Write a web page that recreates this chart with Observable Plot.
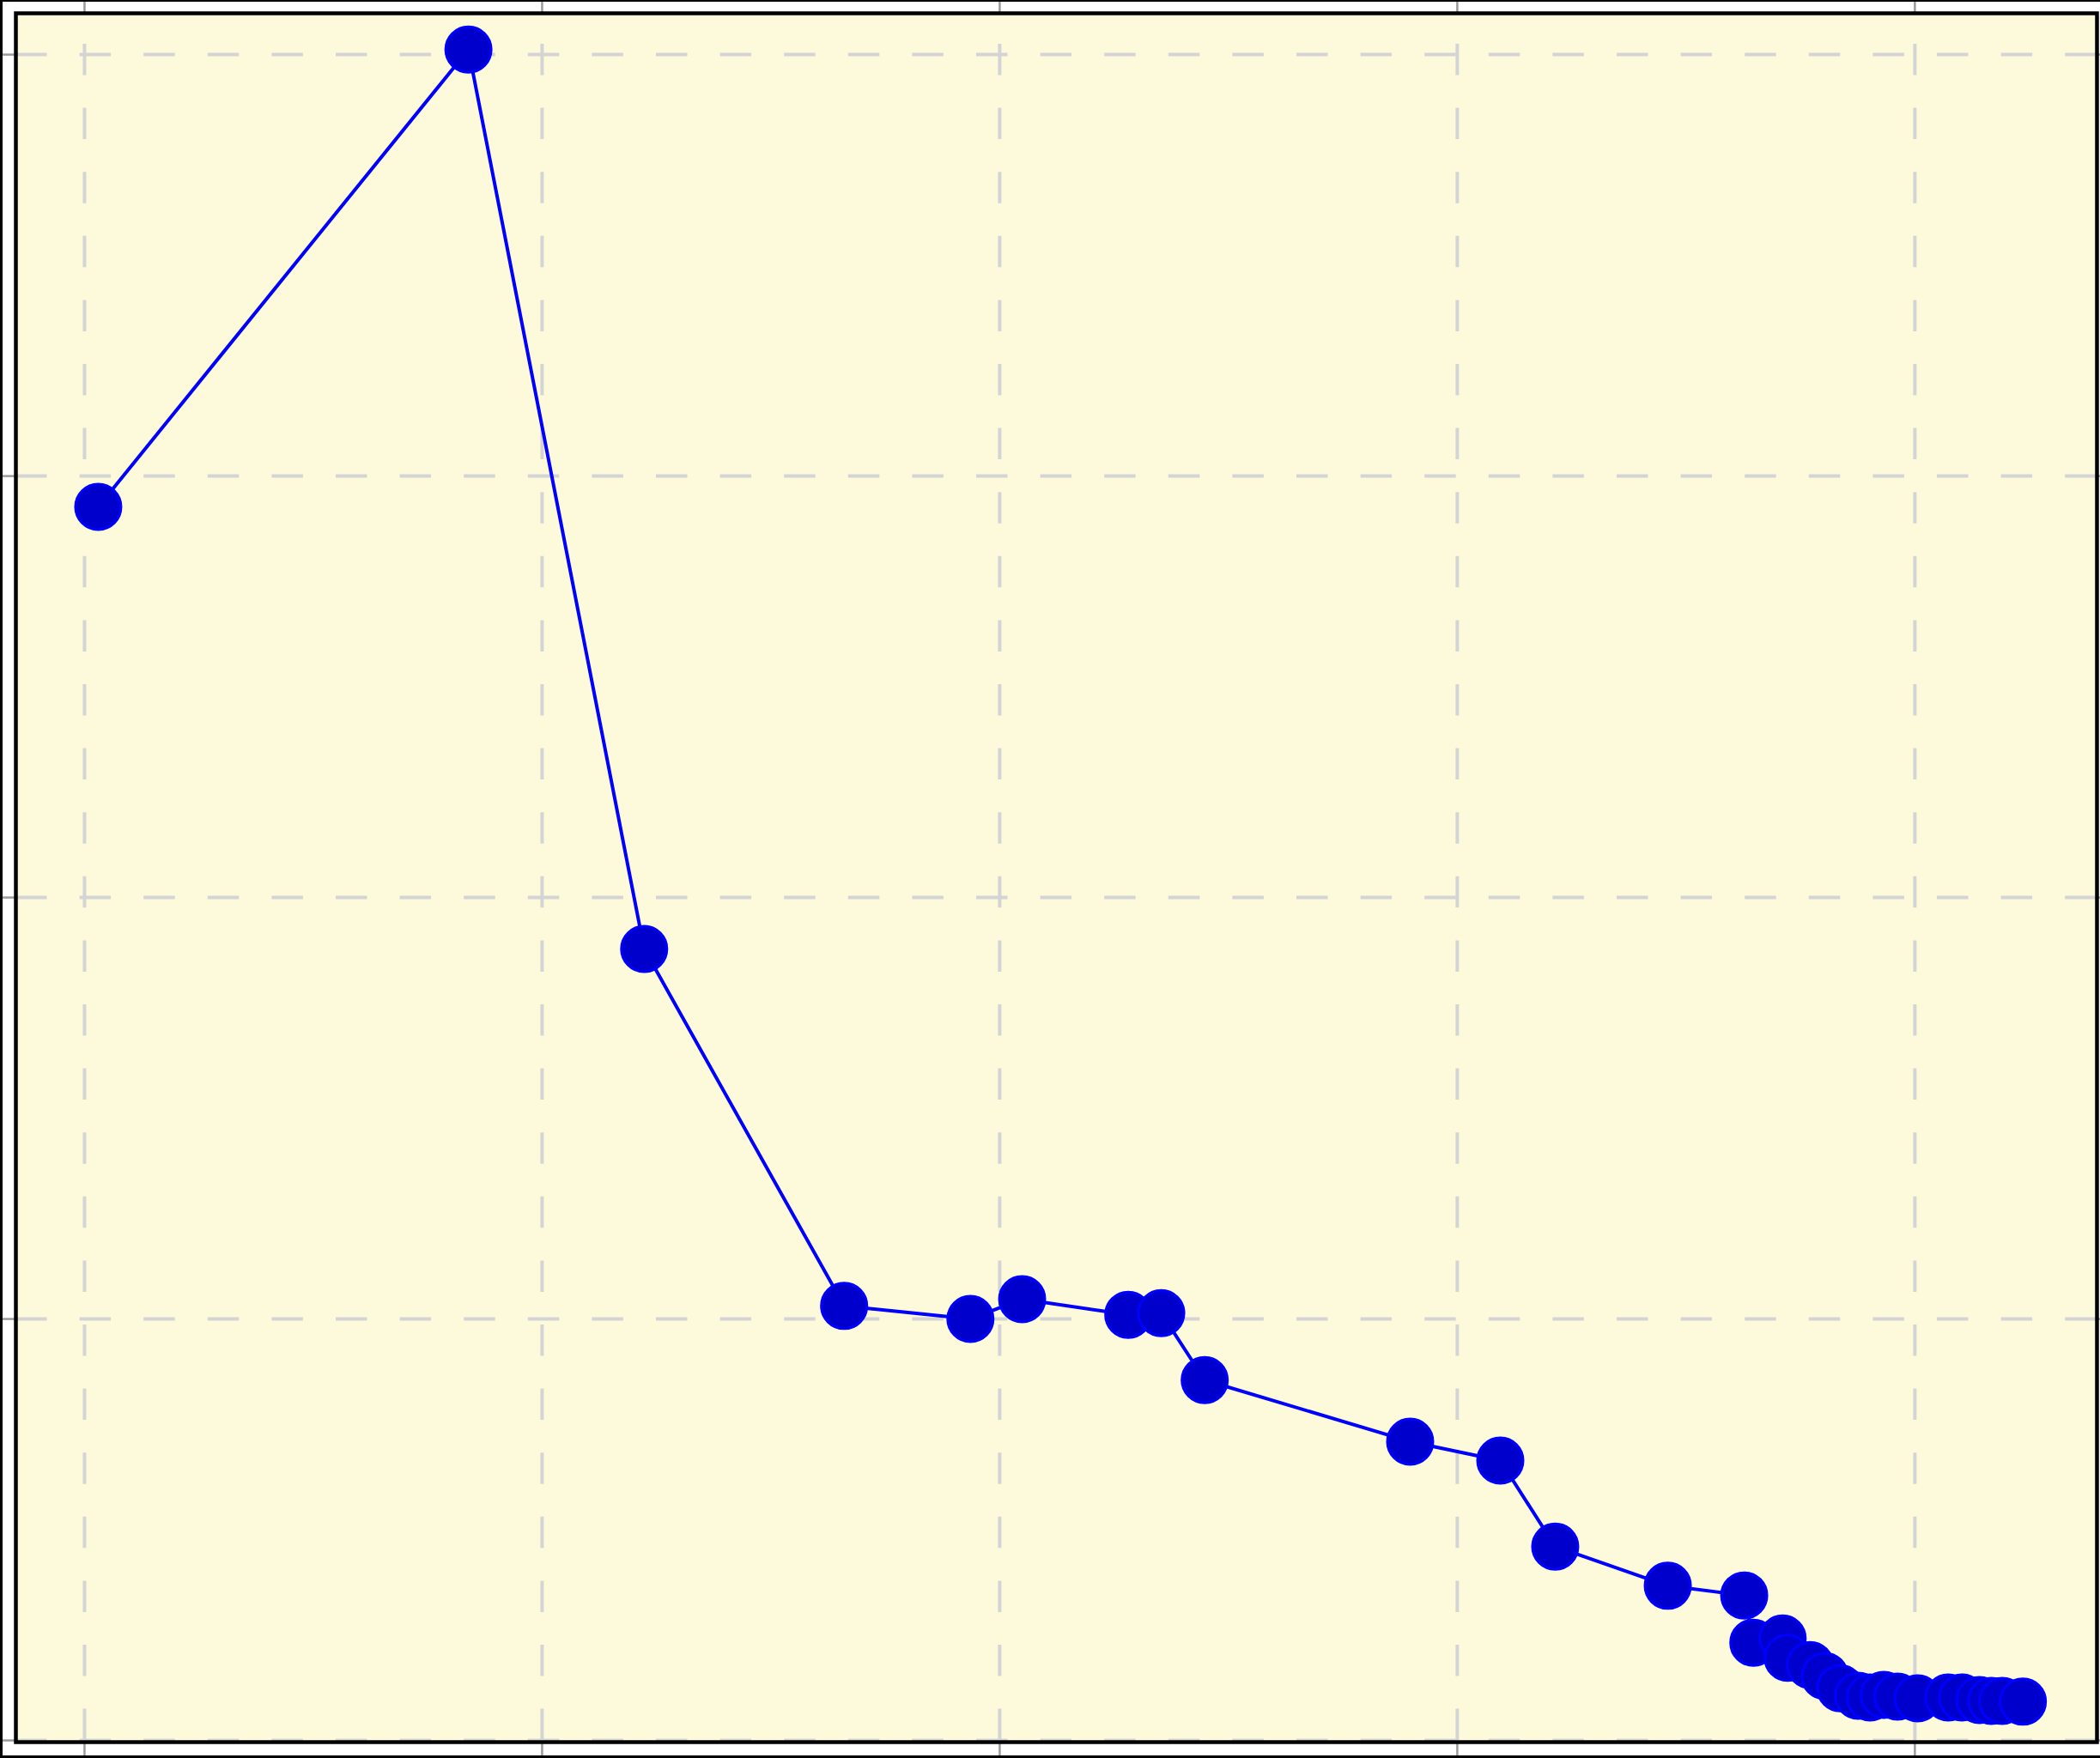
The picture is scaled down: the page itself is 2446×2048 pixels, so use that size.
<!DOCTYPE html>
<html>
<head>
<meta charset="utf-8">
<script src="https://cdn.jsdelivr.net/npm/d3@7"></script>
<script src="https://cdn.jsdelivr.net/npm/@observablehq/plot@0.6"></script>
<style>
  html, body { margin: 0; padding: 0; background: #ffffff; }
  #wrap { position: relative; width: 2446px; height: 2048px; overflow: hidden; }
  #wrap svg { display: block; background: #ffffff; }
  #edge { position: absolute; left: 0; top: 0; width: 2446px; height: 2048px; box-sizing: border-box;
          border-left: 3px solid #000; border-top: 2px solid #000; border-bottom: 3px solid #000; pointer-events: none; }
</style>
</head>
<body>
<div id="wrap"><div id="edge"></div></div>
<script>
// Series values
const xValues = [0.30, 8.39, 12.23, 16.60, 19.36, 20.49, 22.81, 23.53, 24.48, 28.97, 30.94, 32.14,
  34.60, 36.27, 36.47, 37.11, 37.22, 37.71, 38.03, 38.37, 38.76, 39.02, 39.32, 39.62, 40.06,
  40.73, 41.03, 41.41, 41.67, 41.91, 42.36];
const yValues = [29.27, 40.12, 18.78, 10.31, 10.00, 10.47, 10.10, 10.14, 8.55, 7.09, 6.64, 4.60,
  3.67, 3.44, 2.32, 2.42, 1.96, 1.79, 1.53, 1.24, 1.06, 1.02, 1.08, 1.04, 1.00,
  1.02, 1.02, 0.96, 0.94, 0.94, 0.92];
// Tick positions (no labels in the reference)
const xTicks = [0, 10, 20, 30, 40];
const yTicks = [0, 10, 20, 30, 40];

const data = xValues.map((x, i) => ({x, y: yValues[i]}));

const W = 2446, H = 2048;
const mL = 18, mR = 4, mT = 15, mB = 19;
const gridStyle = {stroke: "#d4d4d4", strokeOpacity: 1, strokeWidth: 4, strokeDasharray: "36.5,38.1"};
const tickStyle = {stroke: "#9a9a9a", strokeWidth: 2.5, strokeOpacity: 1, fill: "none", label: null, tickPadding: 0};

const chart = Plot.plot({
  width: W,
  height: H,
  marginLeft: mL,
  marginRight: mR,
  marginTop: mT,
  marginBottom: mB,
  x: {domain: [-1.50, 43.98]},
  y: {domain: [-0.04, 40.98]},
  style: {background: "#ffffff"},
  marks: [
    Plot.frame({fill: "#fdfadc", stroke: null}),
    Plot.gridX(xTicks, {...gridStyle, strokeDashoffset: 38.6}),
    Plot.gridY(yTicks, {...gridStyle}),
    Plot.axisX(xTicks, {anchor: "bottom", tickSize: mB, ...tickStyle}),
    Plot.axisX(xTicks, {anchor: "top", tickSize: mT, ...tickStyle}),
    Plot.axisY(yTicks, {anchor: "left", tickSize: mL, ...tickStyle}),
    Plot.axisY(yTicks, {anchor: "right", tickSize: mR, ...tickStyle}),
    Plot.line(data, {x: "x", y: "y", stroke: "#0000ff", strokeWidth: 4}),
    Plot.dot(data, {x: "x", y: "y", r: 26.5, fill: "#0000cd", stroke: "#0000ff", strokeWidth: 3}),
    Plot.frame({stroke: "#000000", strokeWidth: 4.5})
  ]
});
document.getElementById("wrap").prepend(chart);
</script>
</body>
</html>
